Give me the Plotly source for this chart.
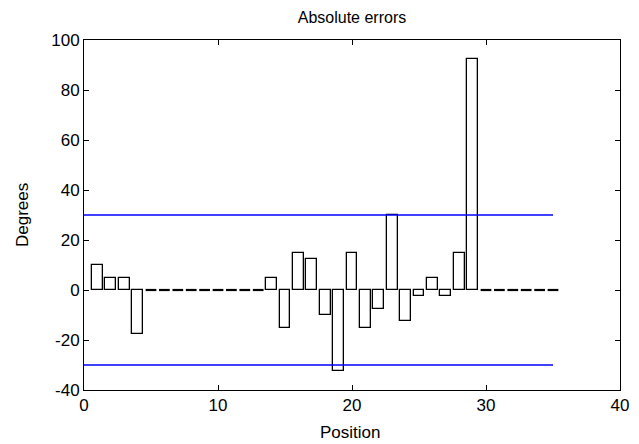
import plotly.graph_objects as go

# Per-position error values (degrees)
positions = list(range(1, 36))
errors = [10, 5, 5, -17.5, 0, 0, 0, 0, 0, 0, 0, 0, 0, 5, -15, 15, 12.5, -10,
          -32.5, 15, -15, -7.5, 30, -12.5, -2.5, 5, -2.5, 15, 92.5, 0, 0, 0,
          0, 0, 0]
threshold = 30
bar_width = 0.8

x_ticks = [0, 10, 20, 30, 40]
y_ticks = [-40, -20, 0, 20, 40, 60, 80, 100]

font_family = "Liberation Sans, Arial, sans-serif"
W, H = 639, 444
L, R, T, B = 84, 19, 40, 54
plot_w, plot_h = W - L - R, H - T - B

fig = go.Figure()

# Non-zero errors as outlined bars
nz_x = [p for p, e in zip(positions, errors) if e != 0]
nz_y = [e for e in errors if e != 0]
fig.add_trace(go.Bar(
    x=nz_x, y=nz_y, width=bar_width,
    marker=dict(color="white", line=dict(color="black", width=1.3)),
    showlegend=False, hoverinfo="x+y",
))

# Zero-height bars collapse to a flat segment on the baseline
zx, zy = [], []
for p, e in zip(positions, errors):
    if e == 0:
        zx += [p - bar_width / 2, p + bar_width / 2, None]
        zy += [0, 0, None]
fig.add_trace(go.Scatter(
    x=zx, y=zy, mode="lines",
    line=dict(color="black", width=2.2),
    showlegend=False, hoverinfo="skip",
))

# Tolerance band at +/- threshold
n = len(positions)
fig.add_trace(go.Scatter(
    x=[0, n, None, 0, n], y=[threshold, threshold, None, -threshold, -threshold],
    mode="lines", line=dict(color="#0000ff", width=1.5),
    showlegend=False, hoverinfo="skip",
))

axis_common = dict(
    showline=True, linecolor="black", linewidth=1, mirror="ticks",
    ticks="inside", ticklen=5, tickcolor="black", tickwidth=1,
    showgrid=False, zeroline=False, automargin=False,
    tickfont=dict(family=font_family, size=17, color="black"),
)

label_font = dict(family=font_family, size=17, color="black")

fig.update_layout(
    width=W, height=H,
    margin=dict(l=L, r=R, t=T, b=B),
    paper_bgcolor="white", plot_bgcolor="white",
    bargap=0,
    title=dict(text="Absolute errors", x=(L + plot_w / 2) / W, xanchor="center",
               y=1 - 17 / H, yanchor="middle", yref="container",
               font=dict(family=font_family, size=16, color="black")),
    xaxis=dict(range=[0, 40], tickvals=x_ticks,
               ticktext=[str(v) for v in x_ticks], **axis_common),
    yaxis=dict(range=[-40, 100], tickvals=y_ticks,
               ticktext=[str(v) for v in y_ticks], **axis_common),
    annotations=[
        dict(text="Position", xref="paper", yref="paper",
             x=(350 - L) / plot_w, y=-(432 - (T + plot_h)) / plot_h,
             xanchor="center", yanchor="middle", showarrow=False,
             font=label_font),
        dict(text="Degrees", xref="paper", yref="paper",
             x=(22 - L) / plot_w, y=0.5, textangle=-90,
             xanchor="center", yanchor="middle", showarrow=False,
             font=label_font),
    ],
)

fig.write_html("out.html")
